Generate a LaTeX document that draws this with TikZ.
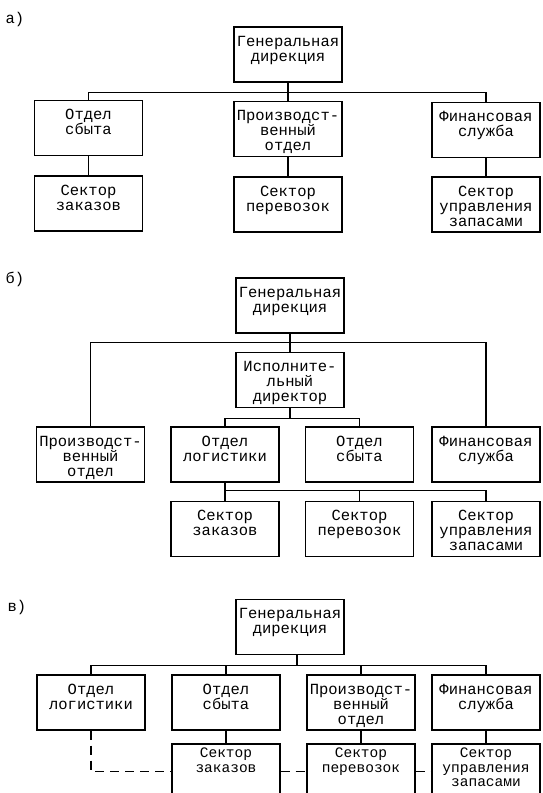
\documentclass[tikz,border=0pt]{standalone}
\usepackage{fontspec}
\setmonofont{Liberation Mono}
\usetikzlibrary{positioning}

\begin{document}
\begin{tikzpicture}[x=1pt, y=-1pt, line width=1.1pt,
   font=\ttfamily\fontsize{15.5}{15}\selectfont,
   unit/.style={rectangle, draw, text width=104pt, align=center,
     inner xsep=2pt, inner ysep=2pt, text height=17pt, text depth=34pt},
   low/.style={font=\ttfamily\fontsize{14.5}{14.5}\selectfont, text height=11.5pt, text depth=39.5pt},
   link/.style={dashed, dash pattern=on 9pt off 6pt}]
  \useasboundingbox (0,0) rectangle (542,793);

  \node (la) at (15,19) {а)};
  \node [unit] (ga) at (288,54.5) {Генеральная\\дирекция};
  \node [unit] (as) at (88.5,128) {Отдел\\сбыта};
  \node [unit] (ap) at (288,129) {Производст-\\венный\\отдел};
  \node [unit] (af) at (486,130) {Финансовая\\служба};
  \node [unit] (sz) at (88.5,203.5) {Сектор\\заказов};
  \node [unit] (sp) at (288,204.5) {Сектор\\перевозок};
  \node [unit] (su) at (486,204.5) {Сектор\\управления\\запасами};
  \draw (ga.south) -- ++(0,10) -| (as.north);
  \draw (ga.south) -- ++(0,10) -| (af.north);
  \draw (ga) -- (ap);
  \draw (as) -- (sz);
  \draw (ap) -- (sp);
  \draw (af) -- (su);

  \node (lb) at (15,279) {б)};
  \node [unit] (bg) at (290,305.5) {Генеральная\\дирекция};
  \node [unit] (be) at (290,380) {Исполните-\\льный\\директор};
  \node [unit] (bp) at (90.5,454.5) {Производст-\\венный\\отдел};
  \node [unit] (bl) at (225,454.5) {Отдел\\логистики};
  \node [unit] (bs) at (359.5,454.5) {Отдел\\сбыта};
  \node [unit] (bf) at (486,454.5) {Финансовая\\служба};
  \node [unit] (bz) at (225,529) {Сектор\\заказов};
  \node [unit] (bpv) at (359.5,529) {Сектор\\перевозок};
  \node [unit] (bu) at (486,529) {Сектор\\управления\\запасами};
  \draw (bg) -- (be);
  \draw (bg.south) -- ++(0,9) -| (bp.north);
  \draw (bg.south) -- ++(0,9) -| (bf.north);
  \draw (be.south) -- ++(0,10.5) -| (bl.north);
  \draw (be.south) -- ++(0,10.5) -| (bs.north);
  \draw (bl) -- (bz);
  \draw (bl.south) -- ++(0,8) -| (bpv.north);
  \draw (bl.south) -- ++(0,8) -| (bu.north);

  \node (lc) at (17,607) {в)};
  \node [unit] (vg) at (290,627) {Генеральная\\дирекция};
  \node [unit] (vl) at (91,702.5) {Отдел\\логистики};
  \node [unit] (vs) at (226,702.5) {Отдел\\сбыта};
  \node [unit] (vp) at (361,702.5) {Производст-\\венный\\отдел};
  \node [unit] (vf) at (486,702.5) {Финансовая\\служба};
  \node [unit, low] (vz) at (226,771.5) {Сектор\\заказов};
  \node [unit, low] (vpv) at (361,771.5) {Сектор\\перевозок};
  \node [unit, low] (vu) at (486,771.5) {Сектор\\управления\\запасами};
  \draw ([xshift=7pt]vg.south) -- ++(0,10.5) -| (vl.north);
  \draw ([xshift=7pt]vg.south) -- ++(0,10.5) -| (vs.north);
  \draw ([xshift=7pt]vg.south) -- ++(0,10.5) -| (vp.north);
  \draw ([xshift=7pt]vg.south) -- ++(0,10.5) -| (vf.north);
  \draw (vs) -- (vz);
  \draw (vp) -- (vpv);
  \draw (vf) -- (vu);
  \draw [link] (vl.south) |- (vz.west);
  \draw [link] (vz.east) -- (vpv.west);
  \draw [link] (vpv.east) -- (vu.west);
\end{tikzpicture}
\end{document}
